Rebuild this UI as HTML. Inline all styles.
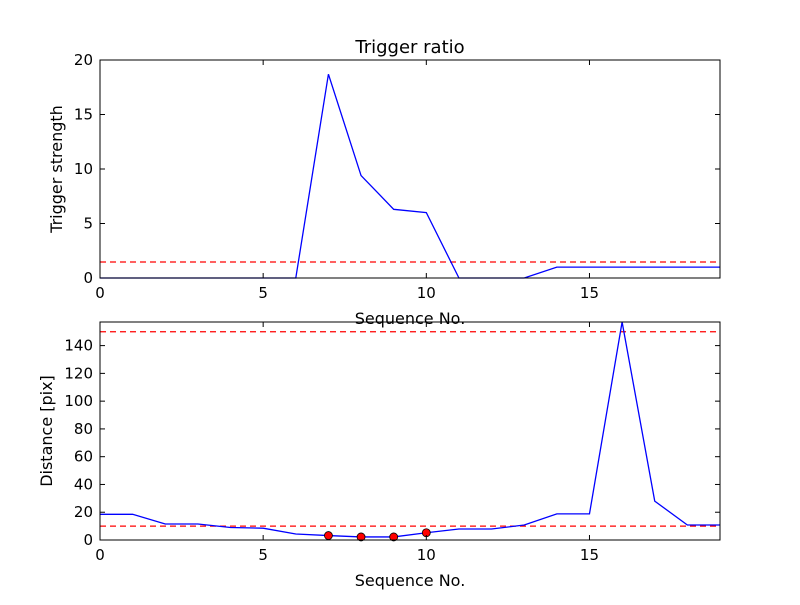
<!DOCTYPE html>
<html><head><meta charset="utf-8"><style>
body{margin:0;background:#fff;}
svg text{font-family:"DejaVu Sans","Liberation Sans",sans-serif;}
</style></head><body>
<svg width="800" height="600" xmlns="http://www.w3.org/2000/svg">
<g id="top"></g>
<g id="bot"></g>
</svg>
<script>
const seq = [0,1,2,3,4,5,6,7,8,9,10,11,12,13,14,15,16,17,18,19];
const strength = [0,0,0,0,0,0,0,18.7,9.4,6.3,6.0,0,0,0,1,1,1,1,1,1];
const strengthThreshold = [1.47];
const distance = [18.5,18.5,11.5,11.5,9,8.5,4.3,3.2,2.2,2.2,5.2,7.9,7.9,10.8,18.8,18.8,157,28,10.8,10.8];
const markIdx = [7,8,9,10];
const markVals = [3.2,2.2,2.2,5.2];
const distThresholds = [10,150];
const xTicks = [0,5,10,15];
const topYTicks = [0,5,10,15,20];
const botYTicks = [0,20,40,60,80,100,120,140];

const NS="http://www.w3.org/2000/svg";
function mk(parent,tag,attrs,text){const e=document.createElementNS(NS,tag);for(const k in attrs)e.setAttribute(k,attrs[k]);if(text!==undefined)e.textContent=text;parent.appendChild(e);return e;}

function panel(g,top,bottom,ymax,yTicks,ys,ylabel,title,thresholds,mx,my,prefix,ylx){
  const L=100,R=720;
  const X=v=>L+(v-0)/(19-0)*(R-L);
  const Y=v=>bottom-(v/ymax)*(bottom-top);
  if(title){const t=mk(g,'text',{x:410,y:top-7,'text-anchor':'middle','font-size':18},title);
    
    }
  thresholds.forEach((v,i)=>{const l=mk(g,'line',{x1:L,x2:R,y1:Y(v),y2:Y(v),stroke:'#f00','stroke-dasharray':'6,4','stroke-width':1.2});
    
    });
  const pts=seq.map((s,i)=>X(s)+','+Y(ys[i])).join(' ');
  const pl=mk(g,'polyline',{points:pts,fill:'none',stroke:'#00f','stroke-width':1.3});
  
  
  if(mx){mx.forEach((s,i)=>{const c=mk(g,'circle',{cx:X(s),cy:Y(my[i]),r:4,fill:'#f00',stroke:'#000','stroke-width':0.8});
    
    });}
  const fr=mk(g,'rect',{x:L,y:top,width:R-L,height:bottom-top,fill:'none',stroke:'#000','stroke-width':1});
  
  
  xTicks.forEach(v=>{mk(g,'line',{x1:X(v),x2:X(v),y1:bottom,y2:bottom-5,stroke:'#000'});mk(g,'line',{x1:X(v),x2:X(v),y1:top,y2:top+5,stroke:'#000'});
    const t=mk(g,'text',{x:X(v),y:bottom+20,'text-anchor':'middle','font-size':15},String(v));
    
    });
  yTicks.forEach(v=>{mk(g,'line',{x1:L,x2:L+5,y1:Y(v),y2:Y(v),stroke:'#000'});mk(g,'line',{x1:R,x2:R-5,y1:Y(v),y2:Y(v),stroke:'#000'});
    const t=mk(g,'text',{x:L-7,y:Y(v)+5,'text-anchor':'end','font-size':15},String(v));
    
    });
  const xl=mk(g,'text',{x:410,y:bottom+46,'text-anchor':'middle','font-size':16},'Sequence No.');
  
  
  const cy=(top+bottom)/2;
  const yl=mk(g,'text',{x:0,y:0,'text-anchor':'middle','font-size':16,transform:`translate(${ylx},${cy}) rotate(-90)`},ylabel);
  
  
}
panel(document.getElementById('top'),60,278,20,topYTicks,strength,'Trigger strength','Trigger ratio',strengthThreshold,null,null,'top',62);
panel(document.getElementById('bot'),322,540,157,botYTicks,distance,'Distance [pix]',null,distThresholds,markIdx,markVals,'bottom',52);
</script>
</body></html>
